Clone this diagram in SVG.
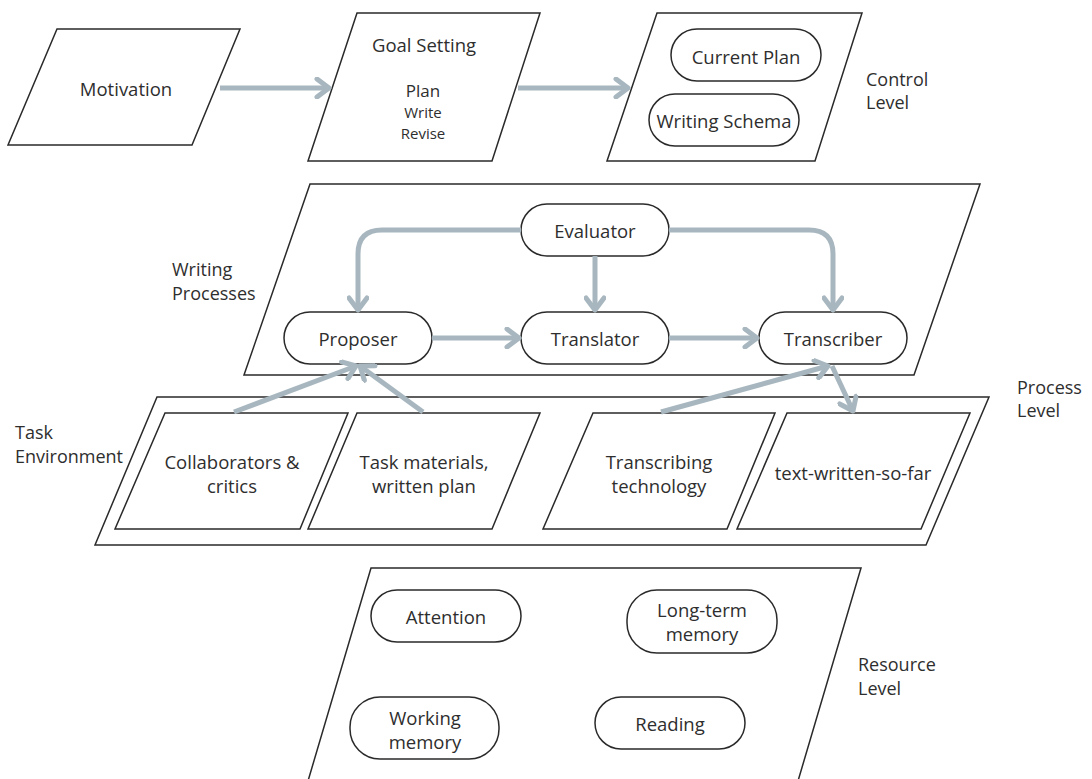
<svg xmlns="http://www.w3.org/2000/svg" width="1092" height="779" viewBox="0 0 1092 779">
<defs>
<style>
.shape{fill:#fff;stroke:#2a2a2a;stroke-width:1.5}
.t{font-family:"Open Sans","Noto Sans","Liberation Sans",sans-serif;font-size:18.5px;fill:#2e2e2e;text-anchor:middle;dominant-baseline:central}
.lbl{font-family:"Open Sans","Noto Sans","Liberation Sans",sans-serif;font-size:18px;fill:#2e2e2e;dominant-baseline:central}
.sm{font-size:15px}
.conn{fill:none;stroke:#a8b7bf;stroke-width:5}
</style>
<marker id="ah" markerUnits="userSpaceOnUse" viewBox="0 0 18 22" markerWidth="18" markerHeight="22" refX="15" refY="11" orient="auto">
<path d="M3,2 L15,11 L3,20" fill="none" stroke="#a8b7bf" stroke-width="5" stroke-linejoin="round" stroke-linecap="round"/>
</marker>
</defs>
<rect width="1092" height="779" fill="#fff"/>

<g id="motivation">
<polygon class="shape" points="57,29 240,29 192,145 8,145"/>
<text class="t" x="126" y="88">Motivation</text>
</g>
<g id="goal-setting">
<polygon class="shape" points="357,13 540,13 492,161 308,161"/>
<text class="t" x="424" y="44">Goal Setting</text>
<text class="t" x="423" y="90" style="font-size:17px">Plan</text>
<text class="t sm" x="423" y="112">Write</text>
<text class="t sm" x="423" y="133">Revise</text>
</g>
<g id="control">
<polygon class="shape" points="657,13 862,13 815,161 607,161"/>
<g id="current-plan">
<rect class="shape" x="671" y="29" width="150" height="52" rx="26"/>
<text class="t" x="746" y="56">Current Plan</text>
</g>
<g id="writing-schema">
<rect class="shape" x="649" y="94" width="150" height="52" rx="26"/>
<text class="t" x="724" y="120">Writing Schema</text>
</g>
</g>
<g id="control-level-label">
<text class="lbl" x="866" y="79">Control</text>
<text class="lbl" x="866" y="102">Level</text>
</g>

<g id="writing-processes">
<polygon class="shape" points="310,184 980,184 914,375 244,375"/>
</g>
<g id="writing-processes-label">
<text class="lbl" x="172" y="269">Writing</text>
<text class="lbl" x="172" y="293">Processes</text>
</g>
<g id="evaluator">
<rect class="shape" x="521" y="204" width="148" height="52" rx="26"/>
<text class="t" x="595" y="230">Evaluator</text>
</g>
<g id="proposer">
<rect class="shape" x="284" y="312" width="148" height="52" rx="26"/>
<text class="t" x="358" y="338">Proposer</text>
</g>
<g id="translator">
<rect class="shape" x="521" y="312" width="148" height="52" rx="26"/>
<text class="t" x="595" y="338">Translator</text>
</g>
<g id="transcriber">
<rect class="shape" x="759" y="312" width="148" height="52" rx="26"/>
<text class="t" x="833" y="338">Transcriber</text>
</g>

<g id="task-environment">
<polygon class="shape" points="157,397 989,397 926,545 95,545"/>
</g>
<g id="task-environment-label">
<text class="lbl" x="15" y="432">Task</text>
<text class="lbl" x="15" y="456">Environment</text>
</g>
<g id="process-level-label">
<text class="lbl" x="1017" y="387">Process</text>
<text class="lbl" x="1017" y="410">Level</text>
</g>
<g id="collaborators">
<polygon class="shape" points="165,413 348,413 300,529 115,529"/>
<text class="t" x="232" y="461">Collaborators &amp;</text>
<text class="t" x="232" y="485">critics</text>
</g>
<g id="task-materials">
<polygon class="shape" points="357,413 540,413 492,529 308,529"/>
<text class="t" x="424" y="461">Task materials,</text>
<text class="t" x="424" y="485">written plan</text>
</g>
<g id="transcribing-technology">
<polygon class="shape" points="593,413 775,413 727,529 543,529"/>
<text class="t" x="659" y="461">Transcribing</text>
<text class="t" x="659" y="485">technology</text>
</g>
<g id="text-written">
<polygon class="shape" points="787,413 970,413 921,529 737,529"/>
<text class="t" x="853" y="472">text-written-so-far</text>
</g>

<g id="resources">
<polygon class="shape" points="371,568 861,568 798,781 308,781"/>
</g>
<g id="resource-level-label">
<text class="lbl" x="858" y="664">Resource</text>
<text class="lbl" x="858" y="688">Level</text>
</g>
<g id="attention">
<rect class="shape" x="371" y="590" width="150" height="52" rx="26"/>
<text class="t" x="446" y="616">Attention</text>
</g>
<g id="long-term-memory">
<rect class="shape" x="627" y="590" width="150" height="63" rx="30"/>
<text class="t" x="702" y="609">Long-term</text>
<text class="t" x="702" y="633">memory</text>
</g>
<g id="working-memory">
<rect class="shape" x="350" y="697" width="149" height="62" rx="30"/>
<text class="t" x="425" y="717">Working</text>
<text class="t" x="425" y="741">memory</text>
</g>
<g id="reading">
<rect class="shape" x="595" y="697" width="150" height="52" rx="26"/>
<text class="t" x="670" y="723">Reading</text>
</g>

<g id="connectors">
<path class="conn" d="M220,88 H329" marker-end="url(#ah)"/>
<path class="conn" d="M518,88 H628" marker-end="url(#ah)"/>
<path class="conn" d="M521,230 H382 Q358,230 358,254 V310" marker-end="url(#ah)"/>
<path class="conn" d="M595,256 V310" marker-end="url(#ah)"/>
<path class="conn" d="M669,230 H809 Q833,230 833,254 V310" marker-end="url(#ah)"/>
<path class="conn" d="M432,338 H519" marker-end="url(#ah)"/>
<path class="conn" d="M669,338 H757" marker-end="url(#ah)"/>
<path class="conn" d="M234,412 L356,366" marker-end="url(#ah)"/>
<path class="conn" d="M423,412 L360,366" marker-end="url(#ah)"/>
<path class="conn" d="M661,412 L828,366" marker-end="url(#ah)"/>
<path class="conn" d="M832,366 L853,411" marker-end="url(#ah)"/>
</g>
</svg>
